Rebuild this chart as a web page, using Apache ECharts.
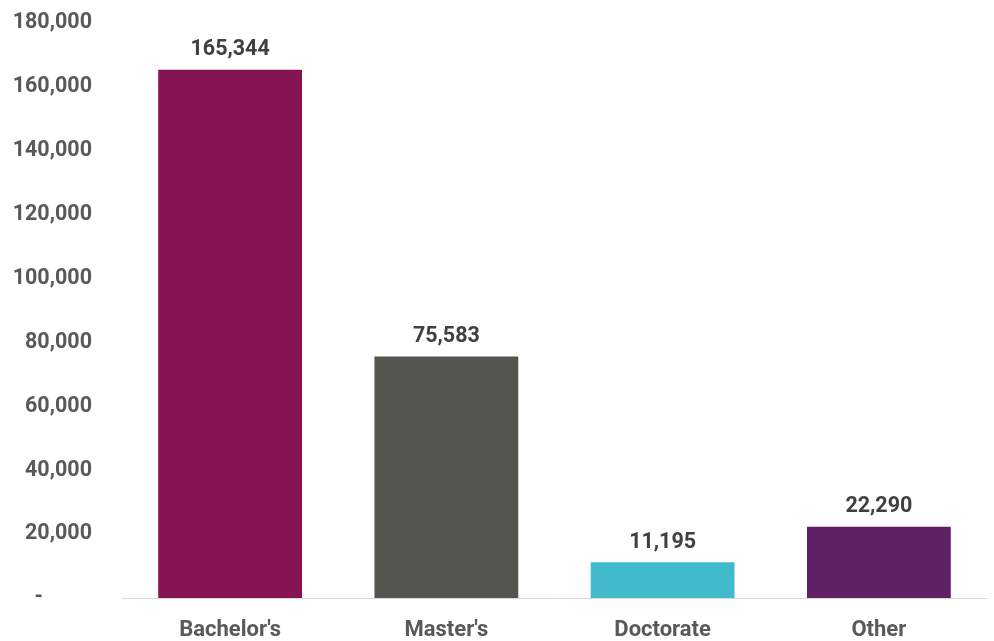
<!DOCTYPE html>
<html>
<head>
<meta charset="utf-8">
<script src="https://cdn.jsdelivr.net/npm/echarts@6/dist/echarts.min.js"></script>
<style>
  html, body { margin: 0; padding: 0; background: #fff; }
  #chart { width: 994px; height: 641px; }
</style>
</head>
<body>
<div id="chart"></div>
<script>
// degree types and counts
var categories = ["Bachelor's", "Master's", "Doctorate", "Other"];
var counts = [165344, 75583, 11195, 22290];
var barColors = ['#861453', '#53564F', '#41BACB', '#5F2163'];

function fmt(v) {
  return v.toLocaleString('en-US');
}

var chart = echarts.init(document.getElementById('chart'));
var option = {
  animation: false,
  grid: { left: 122, right: 7, top: 23, bottom: 42 },
  xAxis: {
    type: 'category',
    data: categories,
    axisTick: { show: false },
    axisLine: { lineStyle: { color: '#d9d9d9', width: 1 } },
    axisLabel: {
      margin: 21,
      color: '#595959',
      fontFamily: 'Roboto',
      fontWeight: 'bold',
      fontSize: 22
    }
  },
  yAxis: {
    type: 'value',
    min: 0,
    max: 180000,
    interval: 20000,
    splitLine: { show: false },
    axisLine: { show: false },
    axisTick: { show: false },
    axisLabel: {
      margin: 30,
      color: '#595959',
      fontFamily: 'Roboto',
      fontWeight: 'bold',
      fontSize: 21.5,
      formatter: function (v) {
        return v === 0 ? '{d|-}' : fmt(v);
      },
      rich: {
        d: { padding: [0, 49, 0, 0], color: '#595959', fontFamily: 'Roboto', fontWeight: 'bold', fontSize: 21.5 }
      }
    }
  },
  series: [{
    type: 'bar',
    barWidth: '66.5%',
    data: counts.map(function (v, i) {
      return { value: v, itemStyle: { color: barColors[i] } };
    }),
    label: {
      show: true,
      position: 'top',
      distance: 9,
      color: '#404040',
      fontFamily: 'Roboto',
      fontWeight: 'bold',
      fontSize: 21.5,
      formatter: function (p) { return fmt(p.value); }
    }
  }]
};
chart.setOption(option);
</script>
</body>
</html>
